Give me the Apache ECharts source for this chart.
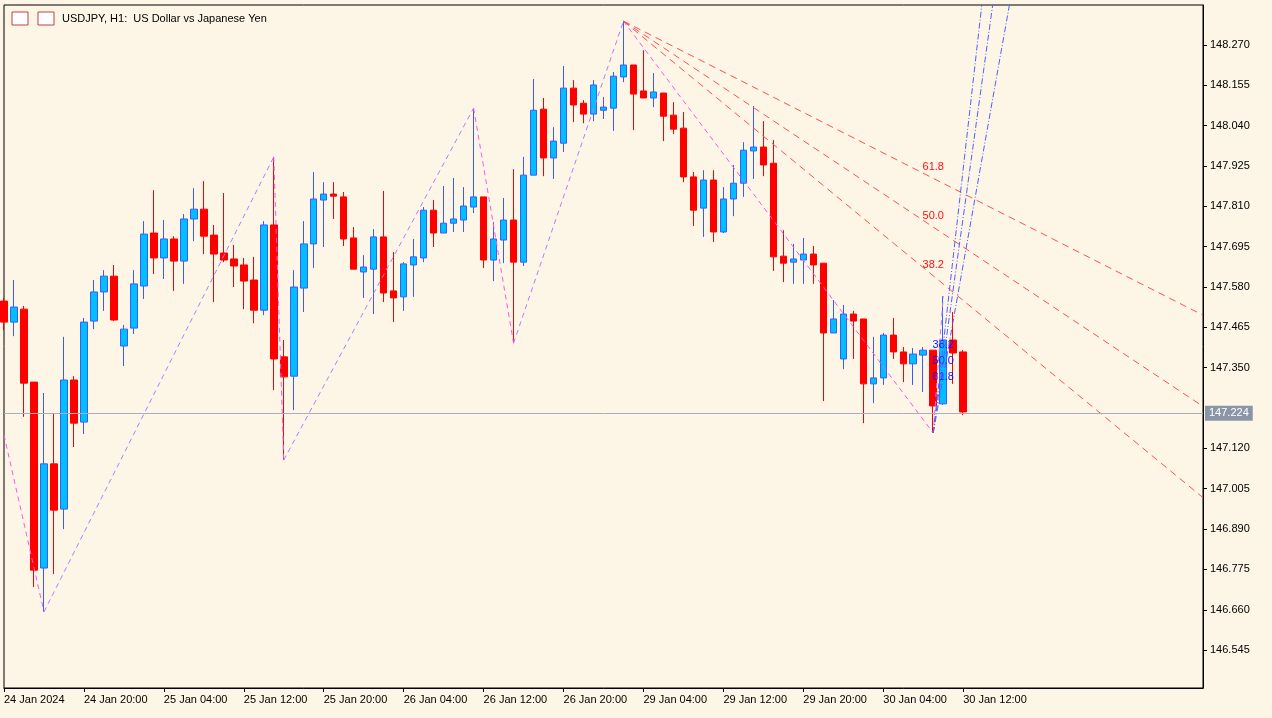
<!DOCTYPE html>
<html><head><meta charset="utf-8">
<script src="https://cdn.jsdelivr.net/npm/echarts@6/dist/echarts.min.js"></script>
<style>html,body{margin:0;padding:0;background:#fdf5e6}#c{width:1272px;height:718px}</style>
</head><body><div id="c"></div>
<script>
const opens=[147.540,147.480,147.517,147.309,146.779,147.076,146.947,147.315,147.195,147.483,147.566,147.611,147.412,147.463,147.583,147.734,147.663,147.717,147.654,147.774,147.802,147.728,147.677,147.660,147.643,147.600,147.514,147.757,147.381,147.326,147.577,147.703,147.828,147.845,147.837,147.720,147.623,147.631,147.723,147.569,147.552,147.643,147.663,147.799,147.734,147.762,147.771,147.808,147.837,147.657,147.714,147.771,147.651,147.899,148.087,147.948,147.990,148.147,148.104,148.073,148.084,148.090,148.179,148.213,148.139,148.119,148.133,148.070,148.033,147.894,147.805,147.885,147.737,147.831,147.876,147.968,147.979,147.933,147.668,147.651,147.657,147.674,147.648,147.449,147.375,147.503,147.489,147.304,147.321,147.443,147.395,147.361,147.386,147.400,147.247,147.429,147.395];
const closes=[147.480,147.523,147.306,146.773,147.076,146.944,147.315,147.192,147.480,147.566,147.611,147.486,147.460,147.589,147.731,147.663,147.717,147.654,147.774,147.802,147.725,147.674,147.657,147.640,147.597,147.514,147.757,147.375,147.324,147.580,147.703,147.831,147.845,147.839,147.717,147.631,147.637,147.723,147.563,147.549,147.646,147.666,147.799,147.734,147.762,147.774,147.811,147.837,147.657,147.717,147.771,147.651,147.899,148.084,147.948,147.996,148.147,148.099,148.073,148.156,148.093,148.181,148.213,148.130,148.119,148.136,148.067,148.030,147.894,147.799,147.885,147.737,147.831,147.876,147.970,147.979,147.928,147.666,147.648,147.660,147.674,147.643,147.449,147.489,147.503,147.483,147.304,147.321,147.443,147.395,147.361,147.389,147.400,147.241,147.429,147.392,147.224];
const highs=[147.549,147.600,147.526,147.309,147.278,147.221,147.438,147.326,147.492,147.600,147.628,147.643,147.472,147.628,147.768,147.856,147.771,147.725,147.788,147.862,147.882,147.757,147.848,147.700,147.663,147.666,147.768,147.951,147.429,147.628,147.768,147.908,147.879,147.879,147.851,147.751,147.671,147.745,147.854,147.680,147.651,147.717,147.808,147.828,147.868,147.891,147.865,148.090,147.837,147.765,147.834,147.916,147.951,148.173,148.119,148.036,148.210,148.170,148.113,148.170,148.122,148.193,148.338,148.213,148.255,148.190,148.133,148.107,148.079,147.908,147.913,147.913,147.865,147.928,147.993,148.096,148.053,147.999,147.742,147.703,147.720,147.697,147.648,147.543,147.529,147.512,147.489,147.438,147.449,147.492,147.409,147.406,147.409,147.400,147.554,147.509,147.400];
const lows=[147.457,147.440,147.210,146.725,146.654,146.762,146.890,147.124,147.161,147.460,147.512,147.483,147.355,147.446,147.546,147.617,147.603,147.569,147.589,147.711,147.674,147.537,147.651,147.580,147.517,147.477,147.500,147.286,147.087,147.229,147.509,147.634,147.694,147.774,147.697,147.631,147.549,147.503,147.537,147.480,147.512,147.552,147.651,147.694,147.734,147.737,147.737,147.791,147.634,147.597,147.648,147.420,147.640,147.899,147.896,147.888,147.965,148.050,148.047,148.053,148.059,148.025,148.164,148.027,148.119,148.093,147.996,148.016,147.879,147.754,147.723,147.708,147.734,147.782,147.837,147.888,147.896,147.626,147.594,147.589,147.589,147.589,147.255,147.449,147.346,147.375,147.192,147.249,147.301,147.375,147.309,147.301,147.281,147.164,147.244,147.304,147.215];
const tickLabels=["24 Jan 2024","24 Jan 20:00","25 Jan 04:00","25 Jan 12:00","25 Jan 20:00","26 Jan 04:00","26 Jan 12:00","26 Jan 20:00","29 Jan 04:00","29 Jan 12:00","29 Jan 20:00","30 Jan 04:00","30 Jan 12:00"];
const priceTicks=[146.545,146.660,146.775,146.890,147.005,147.120,147.350,147.465,147.580,147.695,147.810,147.925,148.040,148.155,148.270];
const zigUp=[[4,146.654],[27,147.951],'-',[28,147.087],[47,148.090],'-',[51,147.420],[62,148.338],'-',[93,147.164],[94,147.554]];
const zigDown=[[0,147.158],[4,146.654],'-',[27,147.951],[28,147.087],'-',[47,148.090],[51,147.420],'-',[62,148.338],[93,147.164]];
const fanRed=[{lv:"61.8",p:147.890},{lv:"50.0",p:147.751},{lv:"38.2",p:147.612}];
const fanBlue=[{lv:"38.2",p:147.415},{lv:"50.0",p:147.369},{lv:"61.8",p:147.324}];
const lastPrice=147.224;
const N=121;
const cats=[];for(let i=0;i<N;i++)cats.push(i);
const candles=opens.map((o,i)=>[o,closes[i],lows[i],highs[i]]);
const series=[{type:'candlestick',data:candles,barWidth:7,
 itemStyle:{color:'#00bfff',color0:'#ff0000',borderColor:'#3a5cff',borderColor0:'#ff0000',borderWidth:1},
 markLine:{symbol:'none',silent:true,data:[{yAxis:lastPrice}],lineStyle:{color:'#a8b0c0',type:'solid',width:1},
  label:{position:'end',formatter:lastPrice.toFixed(3),backgroundColor:'#8a96a8',color:'#fff',fontSize:11,padding:[2,4],distance:2}}},
 {type:'line',data:zigUp,symbol:'none',lineStyle:{color:'#b77cff',type:[5,4],width:1},animation:false},
 {type:'line',data:zigDown,symbol:'none',lineStyle:{color:'#ff55ee',type:[5,4],width:1},animation:false}];
const apexI=62,apexP=148.338,lowI=93,lowP=147.164;
const redLbl=[],blueLbl=[];
fanRed.forEach(f=>{const s=(f.p-apexP)/(lowI-apexI);
 redLbl.push({value:[lowI,f.p],name:f.lv});
 series.push({type:'line',symbol:'none',animation:false,lineStyle:{color:'#ff5050',type:[7,5],width:1},
  data:[[apexI,apexP],[N-1,apexP+s*(N-1-apexI)]]});});
fanBlue.forEach(f=>{const s=(f.p-lowP);
 blueLbl.push({value:[lowI+1,f.p],name:f.lv});
 series.push({type:'line',symbol:'none',animation:false,lineStyle:{color:'#5060ff',type:[6,2,1,2],width:1},
  data:[[lowI,lowP],[lowI+11,lowP+s*11]]});});
series.push({type:'scatter',data:redLbl,symbolSize:1,itemStyle:{color:'rgba(0,0,0,0)',opacity:1},labelLayout:{hideOverlap:false},
 label:{show:true,formatter:'{b}',position:'top',distance:5,color:'#ff1010',fontSize:11,fontFamily:'Liberation Sans, Arial'}});
series.push({type:'scatter',data:blueLbl,symbolSize:1,itemStyle:{color:'rgba(0,0,0,0)',opacity:1},
 label:{show:true,formatter:'{b}',position:'inside',color:'#1010ff',fontSize:11,fontFamily:'Liberation Sans, Arial'}});
const chart=echarts.init(document.getElementById('c'));
chart.setOption({backgroundColor:'#fdf5e6',animation:false,
 grid:{left:4,right:69,top:5,bottom:30,show:true,borderColor:'#000',borderWidth:1},
 xAxis:{type:'category',data:cats,boundaryGap:false,
  axisLine:{lineStyle:{color:'#000'}},axisTick:{interval:(i)=>i%8===0&&i<=96,lineStyle:{color:'#000'},length:4},
  axisLabel:{interval:7,align:'left',fontSize:11,color:'#000',fontFamily:'Liberation Sans, Arial',margin:6,
   formatter:(v,i)=>tickLabels[Math.round(i/8)]||''},splitLine:{show:false}},
 yAxis:{type:'value',position:'right',min:146.437,max:148.384,scale:true,
  axisLine:{show:true,lineStyle:{color:'#000'}},axisTick:{show:true,customValues:priceTicks,length:4,lineStyle:{color:'#000'}},
  axisLabel:{customValues:priceTicks,formatter:v=>v.toFixed(3),fontSize:11,color:'#000',fontFamily:'Liberation Sans, Arial',margin:7},
  splitLine:{show:false}},
 graphic:[
  {type:'rect',shape:{x:12,y:12,width:16,height:13},style:{fill:'#fff',stroke:'#c04040'}},
  {type:'rect',shape:{x:38,y:12,width:16,height:13},style:{fill:'#fff',stroke:'#c04040'}},
  {type:'text',left:62,top:13,style:{text:'USDJPY, H1:  US Dollar vs Japanese Yen',fontSize:11,fill:'#000',fontFamily:'Liberation Sans, Arial'}}],
 series:series});
</script></body></html>
